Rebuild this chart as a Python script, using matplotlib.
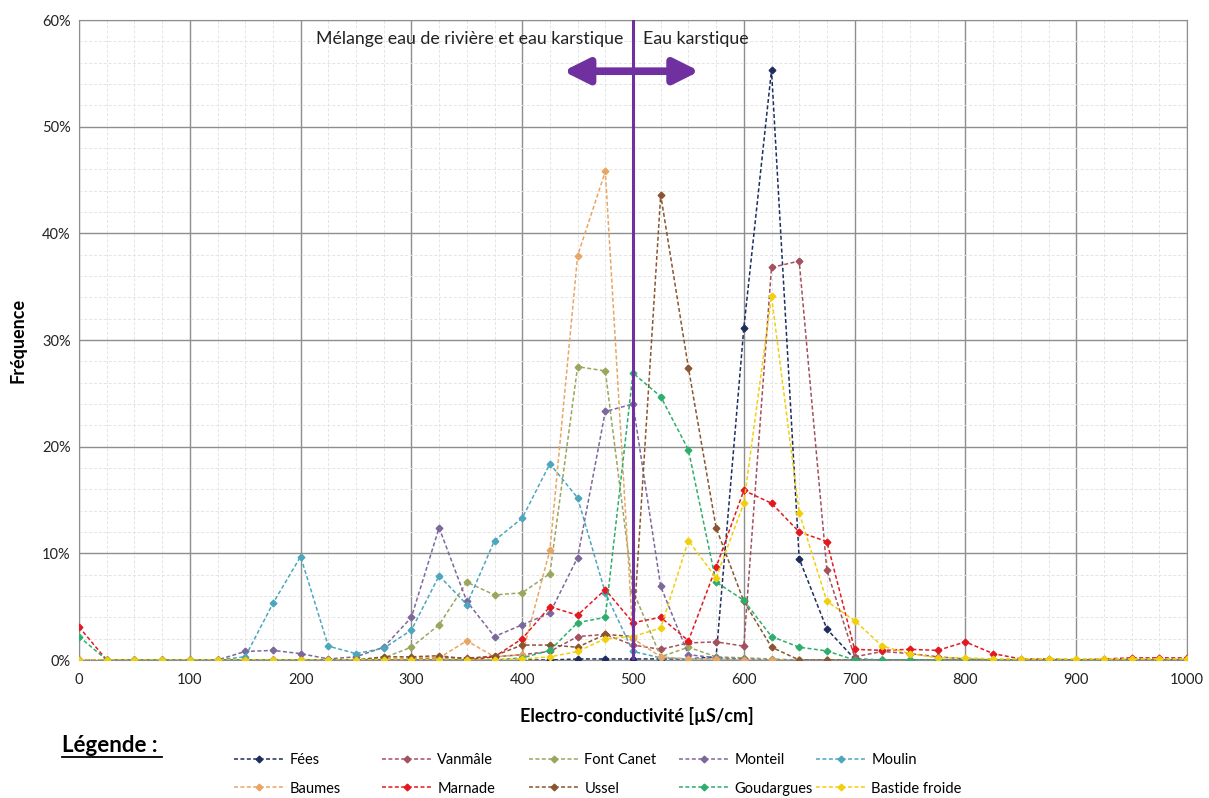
import matplotlib
matplotlib.use("Agg")
import matplotlib.pyplot as plt
from matplotlib.lines import Line2D
from matplotlib.ticker import MultipleLocator, FuncFormatter

plt.rcParams["font.family"] = ["Lato", "DejaVu Sans"]

# electro-conductivity classes (µS/cm)
conductivity = [0, 25, 50, 75, 100, 125, 150, 175, 200, 225,
                250, 275, 300, 325, 350, 375, 400, 425, 450, 475,
                500, 525, 550, 575, 600, 625, 650, 675, 700, 725,
                750, 775, 800, 825, 850, 875, 900, 925, 950, 975, 1000]

# frequency (%) per source
fees = [0, 0, 0, 0, 0, 0, 0, 0, 0, 0,
        0, 0, 0, 0, 0, 0, 0, 0, 0.1, 0.1,
        0.1, 0.1, 0.1, 0.3, 31.1, 55.3, 9.5, 2.9, 0.1, 0,
        0, 0, 0, 0, 0, 0, 0, 0, 0, 0, 0]
vanmale = [0, 0, 0, 0, 0, 0, 0, 0, 0, 0,
           0, 0, 0.1, 0.2, 0.2, 0.3, 0.5, 0.8, 2.2, 2.4,
           1.4, 1.0, 1.6, 1.7, 1.3, 36.8, 37.4, 8.4, 0.3, 0.8,
           0.6, 0.3, 0.1, 0, 0, 0, 0, 0, 0, 0, 0]
font_canet = [0, 0, 0, 0, 0, 0, 0, 0, 0, 0,
              0, 0.2, 1.2, 3.3, 7.3, 6.1, 6.3, 8.1, 27.5, 27.1,
              6.5, 0.3, 1.2, 0.3, 0.2, 0.1, 0, 0, 0, 0,
              0, 0, 0, 0, 0, 0, 0, 0, 0, 0, 0]
monteil = [0, 0, 0, 0, 0, 0, 0.8, 0.9, 0.6, 0.1,
           0.3, 1.2, 4.0, 12.4, 5.5, 2.2, 3.3, 4.4, 9.6, 23.3,
           24.0, 6.9, 0.5, 0.2, 0.1, 0, 0, 0, 0, 0,
           0, 0, 0, 0, 0, 0, 0, 0, 0, 0, 0]
moulin = [0, 0, 0, 0, 0, 0, 0.3, 5.3, 9.7, 1.3,
          0.6, 1.1, 2.8, 7.9, 5.2, 11.2, 13.3, 18.4, 15.2, 6.3,
          0.8, 0.2, 0.1, 0.1, 0, 0, 0, 0, 0, 0,
          0, 0, 0, 0, 0, 0, 0, 0, 0, 0, 0]
baumes = [0, 0, 0, 0, 0, 0, 0, 0, 0, 0,
          0, 0.1, 0.2, 0.2, 1.8, 0.3, 0.5, 10.3, 37.9, 45.8,
          2.0, 0.3, 0.1, 0.1, 0, 0, 0, 0, 0, 0,
          0, 0, 0, 0, 0, 0, 0, 0, 0, 0, 0]
marnade = [3.1, 0, 0, 0, 0, 0, 0, 0, 0, 0,
           0, 0, 0, 0, 0, 0.3, 2.0, 5.0, 4.2, 6.6,
           3.5, 4.0, 1.8, 8.7, 15.9, 14.7, 12.0, 11.1, 1.0, 0.9,
           1.0, 0.9, 1.7, 0.6, 0.1, 0.1, 0, 0.1, 0.2, 0.2, 0.2]
ussel = [0, 0, 0, 0, 0, 0, 0, 0, 0, 0,
         0, 0.3, 0.3, 0.4, 0.1, 0.4, 1.4, 1.4, 1.2, 2.4,
         2.2, 43.6, 27.4, 12.4, 5.5, 1.2, 0, 0, 0, 0,
         0, 0, 0, 0, 0, 0, 0, 0, 0, 0, 0]
goudargues = [2.2, 0, 0, 0, 0, 0, 0, 0, 0, 0,
              0, 0, 0, 0, 0, 0, 0.2, 0.9, 3.5, 4.0,
              26.9, 24.7, 19.7, 7.3, 5.6, 2.2, 1.2, 0.85, 0, 0,
              0, 0, 0, 0, 0, 0, 0, 0, 0, 0, 0]
bastide = [0, 0, 0, 0, 0, 0, 0, 0, 0, 0,
           0, 0, 0, 0, 0, 0, 0.1, 0.3, 0.8, 2.0,
           2.2, 3.0, 11.2, 7.7, 14.7, 34.1, 13.8, 5.5, 3.7, 1.3,
           0.6, 0.2, 0.2, 0.1, 0.1, 0.1, 0.1, 0.1, 0.1, 0.1, 0.1]

names = ["Fées", "Vanmâle", "Font Canet", "Monteil", "Moulin",
         "Baumes", "Marnade", "Ussel", "Goudargues", "Bastide froide"]
series = [fees, vanmale, font_canet, monteil, moulin,
          baumes, marnade, ussel, goudargues, bastide]
colors = ["#1F2D5E", "#A4505E", "#9AA65C", "#7D679B", "#4CA6BE",
          "#E9A563", "#E3191F", "#8A5530", "#2DAE6C", "#F2CF0C"]

fig = plt.figure(figsize=(12.09, 7.98), dpi=100)
ax = fig.add_axes([79 / 1209, 1 - 660 / 798, (1187 - 79) / 1209, (660 - 20) / 798])

handles = []
for name, ys, c in zip(names, series, colors):
    h, = ax.plot(conductivity, ys, color=c, lw=1.1, ls=(0, (2.6, 1.6)),
                 marker="D", ms=3.4, mec=c, mfc=c, label=name, zorder=3)
    handles.append(h)

ax.set_xlim(0, 1000)
ax.set_ylim(0, 60)
ax.xaxis.set_major_locator(MultipleLocator(100))
ax.xaxis.set_minor_locator(MultipleLocator(25))
ax.yaxis.set_major_locator(MultipleLocator(10))
ax.yaxis.set_minor_locator(MultipleLocator(2))
ax.yaxis.set_major_formatter(FuncFormatter(lambda v, p: f"{v:.0f}%"))
ax.grid(which="major", color="#8E8E8E", lw=1.0, zorder=0)
ax.grid(which="minor", color="#E4E4E4", lw=0.7, ls=(0, (3, 2)), zorder=0)
ax.set_axisbelow(True)
ax.tick_params(which="both", length=0, labelsize=10.5, colors="#222222")
ax.tick_params(axis="x", pad=9)
ax.tick_params(axis="y", pad=6)
for s in ax.spines.values():
    s.set_color("#8E8E8E")

# limit between river / karst water
ax.axvline(500, color="#7030A0", lw=2.2, zorder=5)
ax.annotate("", xy=(437, 55.2), xytext=(560, 55.2),
            arrowprops=dict(arrowstyle="<|-|>,head_length=1.5,head_width=0.75",
                            lw=5.5, color="#7030A0", shrinkA=0, shrinkB=0), zorder=5)
ax.text(353, 58.2, "Mélange eau de rivière et eau karstique", ha="center", va="center",
        fontsize=12.8, color="#222222")
ax.text(557, 58.2, "Eau karstique", ha="center", va="center", fontsize=12.8, color="#222222")

fig.text(18 / 1209, 1 - 340 / 798, "Fréquence", rotation=90, ha="center", va="center",
         fontsize=13, fontweight="bold")
fig.text(637 / 1209, 1 - 716 / 798, "Electro-conductivité [µS/cm]", ha="center", va="center",
         fontsize=13, fontweight="bold")

fig.text(62 / 1209, 1 - 745 / 798, "Légende :", ha="left", va="center",
         fontsize=16, fontweight="bold")
fig.add_artist(Line2D([62 / 1209, 162 / 1209], [1 - 757 / 798] * 2, color="black", lw=1.3))

# legend: 5 columns x 2 rows, fixed column positions
text_x = [290, 438, 585, 735, 872]
for j in range(5):
    fig.legend([handles[j], handles[j + 5]], [names[j], names[j + 5]],
               loc="upper left", bbox_to_anchor=((text_x[j] - 56) / 1209, 1 - 753 / 798),
               frameon=False, fontsize=10.5, handlelength=3.4, handletextpad=0.4,
               labelspacing=1.0, borderaxespad=0, borderpad=0)

fig.savefig("out.png", dpi=100)
